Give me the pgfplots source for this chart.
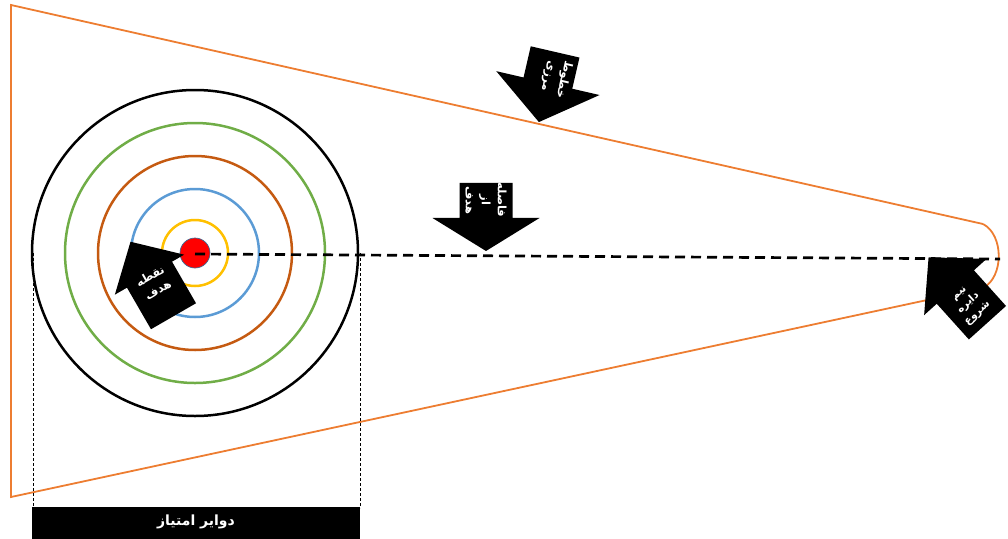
\documentclass[border=0pt]{standalone}
\usepackage{pgfplots}
\pgfplotsset{compat=1.18}
\usepackage{fontspec}
\newfontfamily\arabicfont[Script=Arabic]{DejaVu Sans}
\TeXXeTstate=1
\definecolor{borderorange}{HTML}{ED7D31}
\definecolor{ringyellow}{HTML}{FFC000}
\definecolor{ringblue}{HTML}{5B9BD5}
\definecolor{ringbrown}{HTML}{C55A11}
\definecolor{ringgreen}{HTML}{70AD47}
% block arrow: centre, angle, length, shaft half width, head half width, head length
\newcommand\blockarrow[6]{%
  \fill[black,shift={(#1)},rotate=#2]
    ({-0.5*#3pt},{#4pt}) -- ({0.5*#3pt-#6pt},{#4pt}) -- ({0.5*#3pt-#6pt},{#5pt})
    -- ({0.5*#3pt},0pt) -- ({0.5*#3pt-#6pt},{-#5pt}) -- ({0.5*#3pt-#6pt},{-#4pt})
    -- ({-0.5*#3pt},{-#4pt}) -- cycle;}
\begin{document}
\begin{tikzpicture}
\useasboundingbox (0,0) rectangle (1008pt,538pt);
\clip (0,0) rectangle (1008pt,538pt);
\begin{axis}[
    scale only axis,
    width=1008pt, height=538pt,
    xmin=0, xmax=1008, ymin=0, ymax=538,
    y dir=reverse,
    hide axis,
    clip=false,
]
% boundary lines
\addplot[borderorange, line width=1.8pt, mark=none] coordinates {(983,224) (11,5) (11,497) (983,288)};
\draw[borderorange, line width=1.8pt] (axis cs:983,224) .. controls (axis cs:1004,235) and (axis cs:1004,277) .. (axis cs:983,288);
% score circles
\draw[black, line width=2.5pt] (axis cs:195,253) circle[radius=163pt];
\draw[ringgreen, line width=2.5pt] (axis cs:195,253) circle[radius=130pt];
\draw[ringbrown, line width=2.5pt] (axis cs:195,253) circle[radius=97pt];
\draw[ringblue, line width=2.5pt] (axis cs:195,253) circle[radius=64pt];
\draw[ringyellow, line width=2.5pt] (axis cs:195,253) circle[radius=33pt];
\filldraw[fill=red, draw=ringblue!70!black, line width=0.7pt] (axis cs:195,253) circle[radius=15pt];
% distance line
\addplot[black, line width=2.7pt, dash pattern=on 10pt off 6pt, mark=none] coordinates {(195,254) (1000,259)};
% guide lines
\addplot[black, line width=0.6pt, dash pattern=on 3pt off 2pt, mark=none] coordinates {(33,253) (33,508)};
\addplot[black, line width=0.6pt, dash pattern=on 3pt off 2pt, mark=none] coordinates {(360,253) (360,508)};
\fill[black] (axis cs:32,507) rectangle (axis cs:360,545);
\node[white, font=\arabicfont\bfseries\fontsize{14}{16}\selectfont] at (axis cs:196,522) {\beginR دوایر امتیاز\endR};
\coordinate (a1) at (axis cs:547,87);
\coordinate (t1) at (axis cs:556,78);
\coordinate (a2) at (axis cs:486,217);
\coordinate (t2) at (axis cs:486,200);
\coordinate (a3) at (axis cs:152,279);
\coordinate (t3) at (axis cs:154,283);
\coordinate (a4) at (axis cs:958,290);
\coordinate (t4) at (axis cs:969,304);
\end{axis}
\blockarrow{a1}{-103}{72}{25}{53}{40}
\blockarrow{a2}{-90}{68}{26.5}{53.5}{33}
\blockarrow{a3}{120}{86}{26}{40}{38}
\blockarrow{a4}{132}{88}{25}{42}{40}
\begin{scope}[every node/.style={white, align=center, font=\arabicfont\bfseries\fontsize{11.5}{16}\selectfont}]
\node[rotate=-103] at (t1) {\beginR خطوط\endR\\\beginR مرزی\endR};
\node[rotate=-90] at (t2) {\beginR فاصله\endR\\\beginR از\endR\\\beginR هدف\endR};
\node[rotate=30] at (t3) {\beginR نقطه\endR\\\beginR هدف\endR};
\node[rotate=42, font=\arabicfont\bfseries\fontsize{10.5}{13.5}\selectfont] at (t4) {\beginR نیم\endR\\\beginR دایره\endR\\\beginR شروع\endR};
\end{scope}
\end{tikzpicture}
\end{document}
